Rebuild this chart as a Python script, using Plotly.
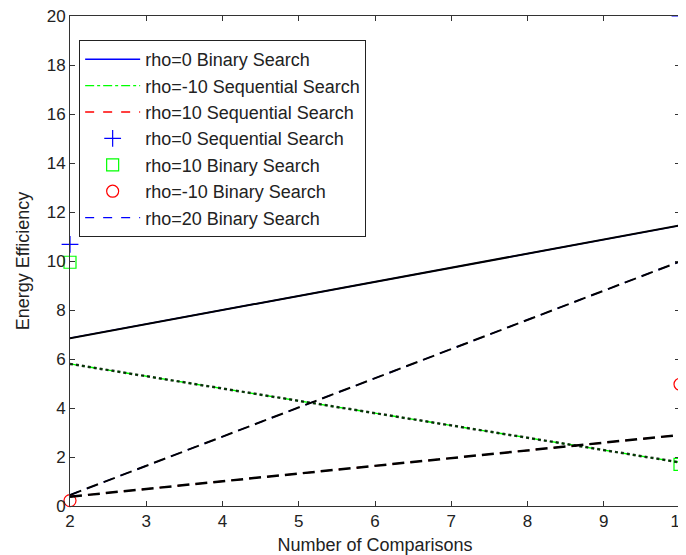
import plotly.graph_objects as go

# Data
x_pts = [2, 10]
rho0_binary = [6.85, 11.45]
rho_m10_sequential = [5.8, 1.78]
rho10_sequential = [0.38, 2.9]
rho0_sequential = [10.68, 20.0]
rho10_binary = [9.95, 1.70]
rho_m10_binary = [0.22, 4.97]
rho20_binary = [0.45, 9.98]

FONT = "Liberation Sans, Arial, sans-serif"
TXT = "#222222"

fig = go.Figure()

def line(y, color, dash, name, width=1.4, show=True, group=None):
    fig.add_trace(go.Scatter(
        x=x_pts, y=y, mode="lines", name=name,
        line=dict(color=color, dash=dash, width=width),
        showlegend=show, legendgroup=group or name))

def marker(y, color, symbol, size, name):
    fig.add_trace(go.Scatter(
        x=x_pts, y=y, mode="markers", name=name, cliponaxis=False,
        marker=dict(color=color, symbol=symbol, size=size,
                    line=dict(color=color, width=1.2)),
        legendgroup=name))

# Colored series (legend entries)
line(rho0_binary, "#0000ff", "solid", "rho=0 Binary Search")
line(rho_m10_sequential, "#00ff00", "dashdot", "rho=-10 Sequential Search")
line(rho10_sequential, "#ff0000", "dash", "rho=10 Sequential Search")
marker(rho0_sequential, "#0000ff", "cross-thin-open", 12, "rho=0 Sequential Search")
marker(rho10_binary, "#00ff00", "square-open", 12, "rho=10 Binary Search")
marker(rho_m10_binary, "#ff0000", "circle-open", 12, "rho=-10 Binary Search")
line(rho20_binary, "#0000ff", "dash", "rho=20 Binary Search")

# Black overlay curves (not in legend)
line(rho0_binary, "black", "solid", "b1", width=2.0, show=False, group="b")
line(rho_m10_sequential, "rgba(0,0,0,0.8)", "dot", "b2", width=2.5, show=False, group="b")
line(rho10_sequential, "black", "12px,6px", "b3", width=2.5, show=False, group="b")
line(rho20_binary, "black", "12px,6px", "b4", width=2.0, show=False, group="b")

axis_common = dict(
    showgrid=False, zeroline=False, showline=True, mirror="ticks",
    linecolor="#333333", linewidth=1, ticks="inside", ticklen=5,
    tickcolor="#333333", tickfont=dict(family=FONT, size=17, color=TXT),
    ticklabeloverflow="allow", automargin=False,
)

# The page body adds an 8px margin, so the figure is 8px smaller on each
# side to keep the plot area where the reference has it.
fig.update_layout(
    width=678, height=547,
    margin=dict(l=62, r=6, t=8, b=49, autoexpand=False),
    paper_bgcolor="white", plot_bgcolor="white",
    font=dict(family=FONT, color=TXT),
    xaxis=dict(range=[2, 10], dtick=1, **axis_common,
               title=dict(text="Number of Comparisons", standoff=9,
                          font=dict(family=FONT, size=18, color=TXT))),
    yaxis=dict(range=[0, 20], dtick=2, **axis_common,
               title=dict(text="Energy Efficiency", standoff=12,
                          font=dict(family=FONT, size=18, color=TXT))),
    legend=dict(x=0.015, y=0.951, xanchor="left", yanchor="top",
                bgcolor="white", bordercolor="#222222", borderwidth=1,
                font=dict(family=FONT, size=18, color=TXT),
                itemwidth=55, tracegroupgap=3, traceorder="normal"),
)

fig.write_html("out.html")
